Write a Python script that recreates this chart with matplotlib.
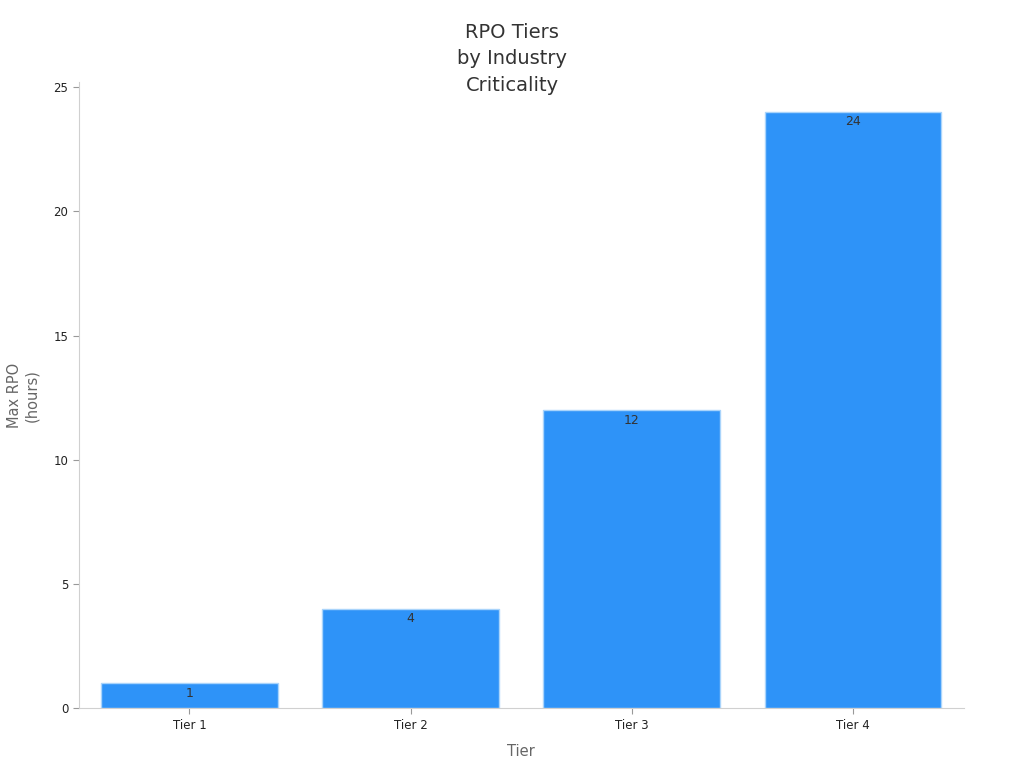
import matplotlib
matplotlib.use("Agg")
import matplotlib.pyplot as plt

tiers = ["Tier 1", "Tier 2", "Tier 3", "Tier 4"]
max_rpo = [1, 4, 12, 24]

plt.rcParams['font.family'] = ['DejaVu Sans']

fig = plt.figure(figsize=(10.24, 7.68), dpi=100)
ax = fig.add_axes([0.077, 0.078, 0.864, 0.815])

bars = ax.bar(range(len(tiers)), max_rpo, width=0.8, color="#2E93F8",
              edgecolor="#A9D4FB", linewidth=1)
for b, v in zip(bars, max_rpo):
    ax.annotate(str(v), (b.get_x() + b.get_width() / 2, v),
                xytext=(0, -2.5), textcoords="offset points",
                ha="center", va="top", fontsize=9, color="#333333")

ax.set_xticks(range(len(tiers)))
ax.set_xticklabels(tiers)
ax.set_xlim(-0.5, 3.5)
ax.set_ylim(0, max(max_rpo) * 1.05)
ax.set_yticks([0, 5, 10, 15, 20, 25])

for s in ["top", "right"]:
    ax.spines[s].set_visible(False)
for s in ["left", "bottom"]:
    ax.spines[s].set_color("#D0D0D0")
ax.tick_params(axis="both", labelsize=8.5, colors="#222222", length=4)
ax.tick_params(axis="both", color="#999999")

ax.set_xlabel("Tier", fontsize=10.5, color="#666666", labelpad=9)
ax.set_ylabel("Max RPO\n(hours)", fontsize=10.5, color="#666666", labelpad=10)

# title centred on the figure, middle line at y=59 px
fig.text(0.5, 1 - 59 / 768, "RPO Tiers\nby Industry\nCriticality", fontsize=14,
         color="#333333", ha="center", va="center", linespacing=1.48)

fig.savefig("out.png", dpi=100)
